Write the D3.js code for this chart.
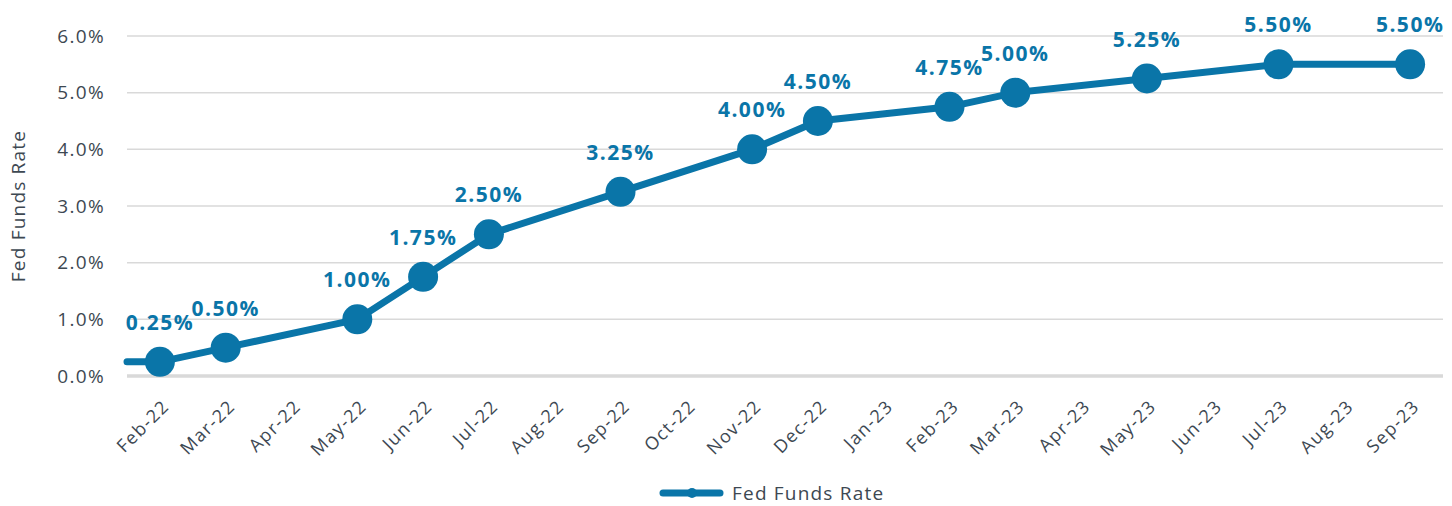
<!DOCTYPE html>
<html>
<head>
<meta charset="utf-8">
<script src="https://cdn.jsdelivr.net/npm/d3@7"></script>
<style>
  body { margin: 0; background: #fff; }
  text { font-family: "Open Sans", "Lato", sans-serif; }
</style>
</head>
<body>
<div id="chart"></div>
<script>
var months = ["Feb-22","Mar-22","Apr-22","May-22","Jun-22","Jul-22","Aug-22","Sep-22","Oct-22","Nov-22","Dec-22",
              "Jan-23","Feb-23","Mar-23","Apr-23","May-23","Jun-23","Jul-23","Aug-23","Sep-23"];
// rate changes (month, value in %)
var pointMonths = ["Feb-22","Mar-22","May-22","Jun-22","Jul-22","Sep-22","Nov-22","Dec-22","Feb-23","Mar-23","May-23","Jul-23","Sep-23"];
var pointRates  = [0.25, 0.50, 1.00, 1.75, 2.50, 3.25, 4.00, 4.50, 4.75, 5.00, 5.25, 5.50, 5.50];
var yTicks = [0, 1, 2, 3, 4, 5, 6];

var width = 1452, height = 506;
var margin = {left: 127, right: 9, top: 36, bottom: 130};
var blue = "#0a75a8", textCol = "#3d4852";

var svg = d3.select("#chart").append("svg")
    .attr("width", width).attr("height", height);

var x = d3.scaleBand().domain(months).range([margin.left, width - margin.right]);
var y = d3.scaleLinear().domain([0, 6]).range([height - margin.bottom, margin.top]);
function cx(m) { return x(m) + x.bandwidth() / 2; }

var data = pointMonths.map(function(m, i) { return {month: m, rate: pointRates[i]}; });

// gridlines
svg.append("g").selectAll("line")
    .data(yTicks.filter(function(d) { return d > 0; }))
    .enter().append("line")
    .attr("x1", margin.left).attr("x2", width - margin.right)
    .attr("y1", function(d) { return y(d); }).attr("y2", function(d) { return y(d); })
    .attr("stroke", "#d9d9d9").attr("stroke-width", 1.5);

// baseline
svg.append("line")
    .attr("x1", margin.left).attr("x2", width - margin.right)
    .attr("y1", y(0)).attr("y2", y(0))
    .attr("stroke", "#d9d9d9").attr("stroke-width", 3.5);

// y labels
svg.append("g").selectAll("text")
    .data(yTicks).enter().append("text")
    .attr("x", 105).attr("y", function(d) { return y(d); })
    .attr("dy", "0.35em").attr("text-anchor", "end")
    .attr("font-size", 19).attr("letter-spacing", 1.3).attr("fill", textCol)
    .text(function(d) { return d.toFixed(1) + "%"; });

svg.append("text")
    .attr("transform", "translate(25," + 206 + ") rotate(-90)")
    .attr("text-anchor", "middle").attr("font-size", 19).attr("letter-spacing", 1.2).attr("fill", textCol)
    .text("Fed Funds Rate");

// x labels
svg.append("g").selectAll("text")
    .data(months).enter().append("text")
    .attr("transform", function(d) { return "translate(" + (cx(d) + 6) + "," + (y(0) + 27) + ") rotate(-45)"; })
    .attr("text-anchor", "end").attr("dy", "0.35em")
    .attr("font-size", 18).attr("letter-spacing", 1.4).attr("fill", textCol)
    .text(function(d) { return d; });

// line (starts from plot edge at first value)
var linePts = [[margin.left, y(pointRates[0])]].concat(data.map(function(d) { return [cx(d.month), y(d.rate)]; }));
svg.append("path")
    .attr("d", d3.line()(linePts))
    .attr("fill", "none").attr("stroke", blue)
    .attr("stroke-width", 7).attr("stroke-linejoin", "round").attr("stroke-linecap", "round");

svg.append("g").selectAll("circle")
    .data(data).enter().append("circle")
    .attr("cx", function(d) { return cx(d.month); })
    .attr("cy", function(d) { return y(d.rate); })
    .attr("r", 15).attr("fill", blue);

// data labels
svg.append("g").selectAll("text")
    .data(data).enter().append("text")
    .attr("x", function(d) { return cx(d.month); })
    .attr("y", function(d) { return y(d.rate) - 32; })
    .attr("text-anchor", "middle")
    .attr("font-size", 21).attr("letter-spacing", 1.5).attr("font-weight", "bold").attr("fill", blue)
    .text(function(d) { return d.rate.toFixed(2) + "%"; });

// legend
var lg = svg.append("g").attr("transform", "translate(663,493)");
lg.append("line").attr("x1", 0).attr("x2", 57).attr("y1", 0).attr("y2", 0)
    .attr("stroke", blue).attr("stroke-width", 7).attr("stroke-linecap", "round");
lg.append("circle").attr("cx", 29).attr("cy", 0).attr("r", 5).attr("fill", blue);
lg.append("text").attr("x", 69).attr("y", 0).attr("dy", "0.35em")
    .attr("font-size", 19).attr("letter-spacing", 1.2).attr("fill", textCol).text("Fed Funds Rate");
</script>
</body>
</html>
